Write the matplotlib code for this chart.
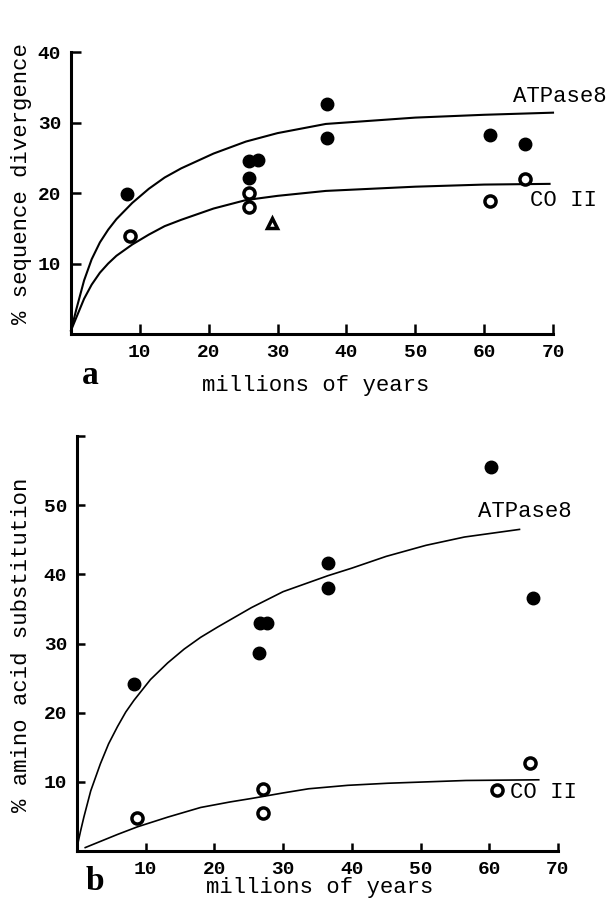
import matplotlib
matplotlib.use("Agg")
import matplotlib.pyplot as plt

# panel a: % sequence divergence
a_atp_x = [8.2, 25.9, 27.2, 25.9, 37.2, 37.2, 60.8, 65.9]
a_atp_y = [19.8, 24.6, 24.7, 22.2, 32.7, 27.8, 28.3, 26.9]
a_co_x = [8.5, 25.9, 25.9, 60.8, 66.0]
a_co_y = [13.9, 20.0, 18.0, 18.8, 22.0]
a_tri_x = [29.2]
a_tri_y = [15.7]
a_atp_curve_x = [0, 0.8, 1.9, 3.0, 4.2, 5.4, 6.6, 8.9, 11.3, 13.6, 16.0, 20.7, 25.4, 30, 37, 50, 60, 70]
a_atp_curve_y = [0.5, 3.6, 7.6, 10.6, 13.0, 14.8, 16.3, 18.6, 20.6, 22.2, 23.5, 25.6, 27.3, 28.5, 29.8, 30.7, 31.1, 31.4]
a_co_curve_x = [0, 0.8, 1.9, 3.0, 4.2, 5.4, 6.6, 8.9, 11.3, 13.6, 16.0, 20.7, 25.4, 30, 37, 50, 60, 69.5]
a_co_curve_y = [0.5, 2.4, 5.0, 7.0, 8.7, 10.0, 11.1, 12.7, 14.1, 15.3, 16.2, 17.8, 19.0, 19.6, 20.3, 20.9, 21.2, 21.3]

# panel b: % amino acid substitution
b_atp_x = [8.3, 26.5, 26.7, 27.6, 36.5, 36.5, 60.3, 66.3]
b_atp_y = [24.2, 28.6, 32.9, 32.9, 41.6, 38.1, 55.5, 36.6]
b_co_x = [8.7, 27.0, 27.1, 61.2, 66.0]
b_co_y = [4.8, 9.0, 5.5, 8.8, 12.7]
b_atp_curve_x = [0, 0.5, 1, 2, 3.4, 4.6, 5.9, 7.1, 8.3, 10.7, 13.2, 15.6, 18.0, 20.5, 25.4, 30, 36.5, 40, 45, 50.8, 56.4, 64.4]
b_atp_curve_y = [0.5, 2.8, 4.9, 8.7, 12.6, 15.5, 18.0, 20.1, 21.8, 24.8, 27.2, 29.2, 30.9, 32.4, 35.2, 37.5, 39.8, 40.9, 42.6, 44.2, 45.4, 46.5]
b_co_curve_x = [1.2, 5.9, 8.8, 13.2, 18.0, 22.3, 25.4, 30, 33.7, 39.4, 45.2, 50.9, 56.6, 67.2]
b_co_curve_y = [0.5, 2.4, 3.5, 4.9, 6.3, 7.1, 7.6, 8.4, 9.0, 9.5, 9.8, 10.0, 10.2, 10.3]

xticks = [10, 20, 30, 40, 50, 60, 70]
a_yticks = [10, 20, 30, 40]
b_yticks = [10, 20, 30, 40, 50, 60]
b_ylabels = ["10", "20", "30", "40", "50", ""]

mono = ["Liberation Mono", "DejaVu Sans Mono"]

fig = plt.figure(figsize=(6.11, 9.02), dpi=100)
axa = fig.add_axes([0.1162, 0.6297, 0.7889, 0.3126])
axb = fig.add_axes([0.126, 0.0565, 0.7872, 0.4601])


def style(ax, ymax, yticks, ylabels, tlen):
    ax.set_xlim(0, 70)
    ax.set_ylim(0, ymax)
    for s in ["top", "right"]:
        ax.spines[s].set_visible(False)
    for s in ["left", "bottom"]:
        ax.spines[s].set_linewidth(2.2)
    ax.set_xticks(xticks)
    ax.set_xticklabels([str(t) for t in xticks])
    ax.set_yticks(yticks)
    ax.set_yticklabels(ylabels)
    ax.tick_params(direction="in", length=tlen, width=1.8, pad=7)
    for lab in ax.get_xticklabels() + ax.get_yticklabels():
        lab.set_family(mono)
        lab.set_fontsize(14)
        lab.set_fontweight("bold")


style(axa, 40, a_yticks, [str(t) for t in a_yticks], 7)
style(axb, 60, b_yticks, b_ylabels, 6)

# panel a
axa.plot(a_atp_curve_x, a_atp_curve_y, color="black", lw=1.5, clip_on=False)
axa.plot(a_co_curve_x, a_co_curve_y, color="black", lw=1.5, clip_on=False)
axa.plot(a_atp_x, a_atp_y, "o", color="black", ms=9, clip_on=False)
axa.plot(a_co_x, a_co_y, "o", mfc="white", mec="black", ms=8, mew=2.5, clip_on=False)
axa.plot(a_tri_x, a_tri_y, "^", mfc="white", mec="black", ms=7, mew=2.5, clip_on=False)
axa.text(64.2, 32.2, "ATPase8", family=mono, fontsize=16, ha="left", va="bottom", clip_on=False)
axa.text(66.6, 20.4, "CO II", family=mono, fontsize=16, ha="left", va="top", clip_on=False)

# panel b
axb.plot(b_atp_curve_x, b_atp_curve_y, color="black", lw=1.2, clip_on=False)
axb.plot(b_co_curve_x, b_co_curve_y, color="black", lw=1.2, clip_on=False)
axb.plot(b_atp_x, b_atp_y, "o", color="black", ms=9, clip_on=False)
axb.plot(b_co_x, b_co_y, "o", mfc="white", mec="black", ms=8, mew=2.5, clip_on=False)
axb.text(58.4, 47.5, "ATPase8", family=mono, fontsize=16, ha="left", va="bottom", clip_on=False)
axb.text(63.0, 8.4, "CO II", family=mono, fontsize=16, ha="left", va="center", clip_on=False)

# axis titles and panel letters
fig.text(22 / 611, 1 - 184 / 902, "% sequence divergence", family=mono, fontsize=16,
         rotation=90, ha="center", va="center")
fig.text(22 / 611, 1 - 645 / 902, "% amino acid substitution", family=mono, fontsize=16,
         rotation=90, ha="center", va="center")
fig.text(316 / 611, 1 - 386 / 902, "millions of years", family=mono, fontsize=16,
         ha="center", va="center")
fig.text(320 / 611, 1 - 888 / 902, "millions of years", family=mono, fontsize=16,
         ha="center", va="center")
fig.text(90 / 611, 1 - 375 / 902, "a", family=["Liberation Serif"], fontsize=24,
         fontweight="bold", ha="center", va="center")
fig.text(95 / 611, 1 - 882 / 902, "b", family=["Liberation Serif"], fontsize=24,
         fontweight="bold", ha="center", va="center")

fig.savefig("out.png", dpi=100)
